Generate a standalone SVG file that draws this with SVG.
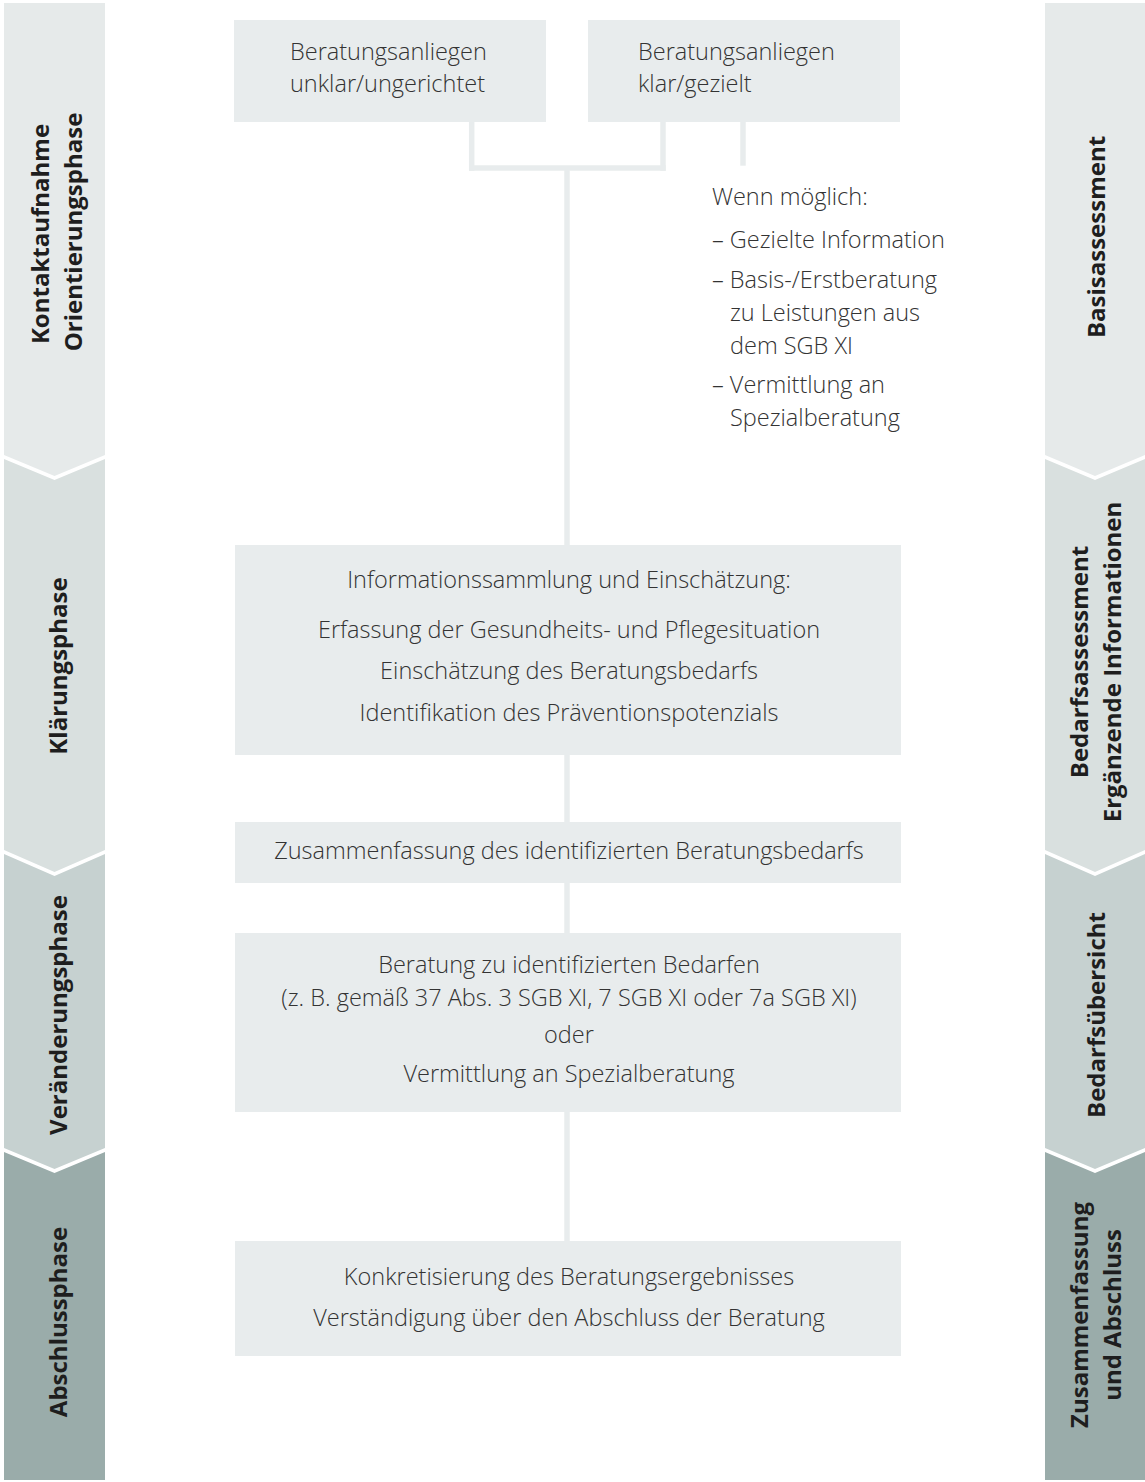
<svg xmlns="http://www.w3.org/2000/svg" width="1145" height="1482" viewBox="0 0 1145 1482">
<style>
.box{fill:#e8eced}
.t{font-family:"Open Sans","Liberation Sans",sans-serif;font-weight:300;font-size:23.5px;fill:#333333}
.c{text-anchor:middle}
.side{font-family:"Open Sans","Liberation Sans",sans-serif;font-weight:700;font-size:24px;fill:#1e1e1e;text-anchor:middle}
.s1{fill:#e6eaea}.s2{fill:#d9e0df}.s3{fill:#c6d1d0}.s4{fill:#9aacaa}
.ln{stroke:#e8eced;stroke-width:5.5;fill:none}
</style>
<rect width="1145" height="1482" fill="#ffffff"/>
<g id="left-phases">
<g id="phase1"><polygon class="s1" points="4,3 105,3 105,455 54.5,476 4,455"/>
<text class="side" transform="translate(49,234) rotate(-90)">Kontaktaufnahme</text>
<text class="side" transform="translate(82,232) rotate(-90)">Orientierungsphase</text></g>
<g id="phase2"><polygon class="s2" points="4,459 54.5,480 105,459 105,850 54.5,872 4,850"/>
<text class="side" transform="translate(67,666) rotate(-90)">Klärungsphase</text></g>
<g id="phase3"><polygon class="s3" points="4,854 54.5,876 105,854 105,1148 54.5,1169 4,1148"/>
<text class="side" transform="translate(67,1015) rotate(-90)">Veränderungsphase</text></g>
<g id="phase4"><polygon class="s4" points="4,1152 54.5,1173 105,1152 105,1480 4,1480"/>
<text class="side" transform="translate(67,1322) rotate(-90)">Abschlussphase</text></g>
</g>
<g id="right-phases">
<g id="rphase1"><polygon class="s1" points="1045,3 1145,3 1145,455 1095,476 1045,455"/>
<text class="side" transform="translate(1105,237) rotate(-90)">Basisassessment</text></g>
<g id="rphase2"><polygon class="s2" points="1045,459 1095,480 1145,459 1145,850 1095,872 1045,850"/>
<text class="side" transform="translate(1088,662) rotate(-90)">Bedarfsassessment</text>
<text class="side" transform="translate(1121,662) rotate(-90)">Ergänzende Informationen</text></g>
<g id="rphase3"><polygon class="s3" points="1045,854 1095,876 1145,854 1145,1148 1095,1169 1045,1148"/>
<text class="side" transform="translate(1105,1015) rotate(-90)">Bedarfsübersicht</text></g>
<g id="rphase4"><polygon class="s4" points="1045,1152 1095,1173 1145,1152 1145,1480 1045,1480"/>
<text class="side" transform="translate(1088,1315) rotate(-90)">Zusammenfassung</text>
<text class="side" transform="translate(1121,1315) rotate(-90)">und Abschluss</text></g>
</g>
<g id="connectors">
<line class="ln" x1="471.7" y1="120" x2="471.7" y2="170.8"/>
<line class="ln" x1="663" y1="120" x2="663" y2="170.8"/>
<line class="ln" x1="469" y1="168" x2="665.7" y2="168"/>
<line class="ln" x1="567" y1="168" x2="567" y2="1243"/>
<line class="ln" x1="743" y1="120" x2="743" y2="165.7"/>
</g>
<g id="node-unklar"><rect class="box" x="234" y="20" width="312" height="102"/>
<text class="t" x="290" y="60">Beratungsanliegen</text>
<text class="t" x="290" y="92">unklar/ungerichtet</text></g>
<g id="node-klar"><rect class="box" x="588" y="20" width="312" height="102"/>
<text class="t" x="638" y="60">Beratungsanliegen</text>
<text class="t" x="638" y="92">klar/gezielt</text></g>
<g id="node-wenn">
<text class="t" x="712" y="205">Wenn möglich:</text>
<text class="t" x="712" y="248">– Gezielte Information</text>
<text class="t" x="712" y="288">– Basis-/Erstberatung</text>
<text class="t" x="730" y="321">zu Leistungen aus</text>
<text class="t" x="730" y="354">dem SGB XI</text>
<text class="t" x="712" y="393">– Vermittlung an</text>
<text class="t" x="730" y="426">Spezialberatung</text></g>
<g id="node-info"><rect class="box" x="235" y="545" width="666" height="210"/>
<text class="t c" x="569" y="588">Informationssammlung und Einschätzung:</text>
<text class="t c" x="569" y="638">Erfassung der Gesundheits- und Pflegesituation</text>
<text class="t c" x="569" y="679">Einschätzung des Beratungsbedarfs</text>
<text class="t c" x="569" y="721">Identifikation des Präventionspotenzials</text></g>
<g id="node-zus"><rect class="box" x="235" y="822" width="666" height="61"/>
<text class="t c" x="569" y="859">Zusammenfassung des identifizierten Beratungsbedarfs</text></g>
<g id="node-beratung"><rect class="box" x="235" y="933" width="666" height="179"/>
<text class="t c" x="569" y="973">Beratung zu identifizierten Bedarfen</text>
<text class="t c" x="569" y="1006">(z. B. gemäß 37 Abs. 3 SGB XI, 7 SGB XI oder 7a SGB XI)</text>
<text class="t c" x="569" y="1043">oder</text>
<text class="t c" x="569" y="1082">Vermittlung an Spezialberatung</text></g>
<g id="node-abschluss"><rect class="box" x="235" y="1241" width="666" height="115"/>
<text class="t c" x="569" y="1285">Konkretisierung des Beratungsergebnisses</text>
<text class="t c" x="569" y="1326">Verständigung über den Abschluss der Beratung</text></g>
</svg>
